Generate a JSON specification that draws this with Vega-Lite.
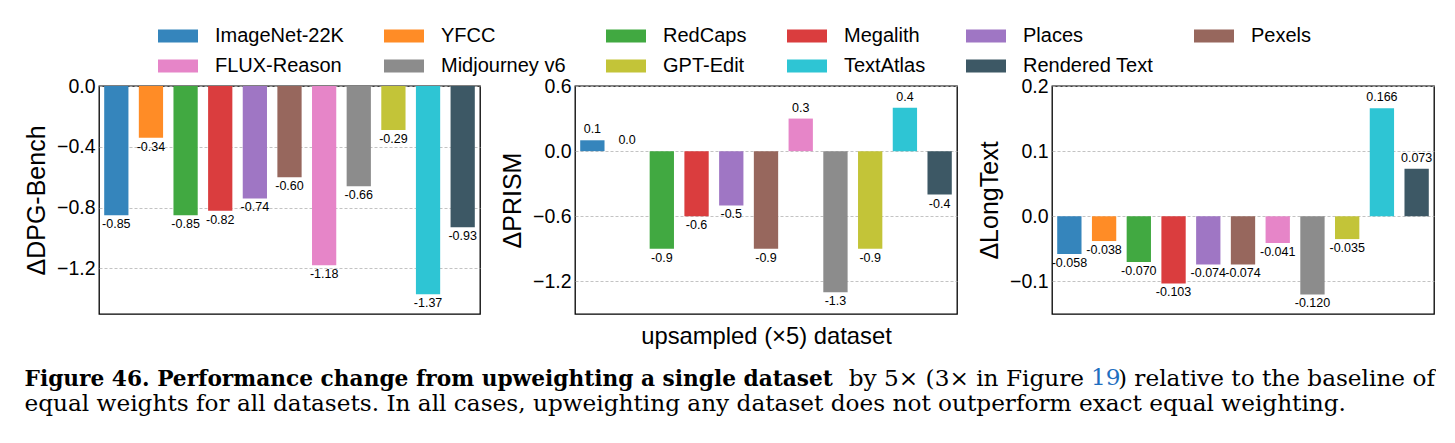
{
  "$schema": "https://vega.github.io/schema/vega-lite/v6.json",
  "background": "white",
  "padding": {"left": 23, "top": 16, "right": 0, "bottom": 0},
  "bounds": "flush",
  "spacing": 95,
  "config": {
    "locale": {"number": {"decimal": ".", "thousands": ",", "grouping": [3], "currency": ["$", ""], "minus": "-"}},
    "font": "Liberation Sans",
    "view": {"stroke": "black", "strokeWidth": 1.3},
    "axis": {
      "labelFont": "Liberation Sans",
      "titleFont": "Liberation Sans",
      "labelColor": "black",
      "titleColor": "black",
      "titleFontWeight": "normal"
    },
    "axisY": {
      "labelFontSize": 19.5,
      "titleFontSize": 25,
      "titlePadding": 7,
      "labelPadding": 4,
      "ticks": false,
      "domain": false,
      "grid": true,
      "gridColor": "#b4b4b4",
      "gridDash": [3, 2],
      "gridWidth": 0.8,
      "format": ".1f",
      "labelExpr": "replace(datum.label, '-', '\u2212')"
    },
    "title": {"color": "black", "limit": 2000}
  },
  "datasets": {
    "dpg": [
      {"dataset": "ImageNet-22K", "value": -0.85},
      {"dataset": "YFCC", "value": -0.34},
      {"dataset": "RedCaps", "value": -0.85},
      {"dataset": "Megalith", "value": -0.82},
      {"dataset": "Places", "value": -0.74},
      {"dataset": "Pexels", "value": -0.60},
      {"dataset": "FLUX-Reason", "value": -1.18},
      {"dataset": "Midjourney v6", "value": -0.66},
      {"dataset": "GPT-Edit", "value": -0.29},
      {"dataset": "TextAtlas", "value": -1.37},
      {"dataset": "Rendered Text", "value": -0.93}
    ],
    "prism": [
      {"dataset": "ImageNet-22K", "value": 0.1},
      {"dataset": "YFCC", "value": 0.0},
      {"dataset": "RedCaps", "value": -0.9},
      {"dataset": "Megalith", "value": -0.6},
      {"dataset": "Places", "value": -0.5},
      {"dataset": "Pexels", "value": -0.9},
      {"dataset": "FLUX-Reason", "value": 0.3},
      {"dataset": "Midjourney v6", "value": -1.3},
      {"dataset": "GPT-Edit", "value": -0.9},
      {"dataset": "TextAtlas", "value": 0.4},
      {"dataset": "Rendered Text", "value": -0.4}
    ],
    "longtext": [
      {"dataset": "ImageNet-22K", "value": -0.058},
      {"dataset": "YFCC", "value": -0.038},
      {"dataset": "RedCaps", "value": -0.070},
      {"dataset": "Megalith", "value": -0.103},
      {"dataset": "Places", "value": -0.074},
      {"dataset": "Pexels", "value": -0.074},
      {"dataset": "FLUX-Reason", "value": -0.041},
      {"dataset": "Midjourney v6", "value": -0.120},
      {"dataset": "GPT-Edit", "value": -0.035},
      {"dataset": "TextAtlas", "value": 0.166},
      {"dataset": "Rendered Text", "value": 0.073}
    ]
  },
  "title": {
    "text": "19",
    "orient": "bottom",
    "anchor": "start",
    "frame": "group",
    "offset": -49,
    "dx": 992,
    "font": "DejaVu Serif",
    "fontSize": 23.2,
    "fontWeight": "normal",
    "color": "#1f6fbf"
  },
  "hconcat": [
    {
      "width": 381,
      "height": 228,
      "data": {"name": "dpg"},
      "title": {
        "text": "Figure 46. Performance change from upweighting a single dataset",
        "subtitle": "equal weights for all datasets. In all cases, upweighting any dataset does not outperform exact equal weighting.",
        "orient": "bottom",
        "anchor": "start",
        "frame": "bounds",
        "offset": 55,
        "font": "DejaVu Serif",
        "fontSize": 21.7,
        "fontWeight": "bold",
        "subtitleFont": "DejaVu Serif",
        "subtitleFontSize": 23.2,
        "subtitleFontWeight": "normal",
        "subtitleColor": "black",
        "subtitlePadding": 2
      },
      "encoding": {
        "x": {"field": "dataset", "type": "nominal", "sort": null, "axis": null,
              "scale": {"paddingInner": 0.3, "paddingOuter": 0.15}},
        "y": {"field": "value", "type": "quantitative",
              "scale": {"domain": [-1.5, 0], "nice": false},
              "axis": {"title": "\u0394DPG-Bench", "values": [0, -0.4, -0.8, -1.2]}}
      },
      "layer": [
        {
          "mark": {"type": "bar"},
          "encoding": {
            "color": {
              "field": "dataset", "type": "nominal",
              "scale": {
                "domain": ["ImageNet-22K", "YFCC", "RedCaps", "Megalith", "Places", "Pexels", "FLUX-Reason", "Midjourney v6", "GPT-Edit", "TextAtlas", "Rendered Text"],
                "range": ["#3585bc", "#ff8c26", "#41a941", "#da3d3e", "#9f76c4", "#97675d", "#e685c8", "#8c8c8c", "#c3c438", "#2ec5d4", "#3d5865"]
              },
              "legend": {
                "orient": "none", "legendX": 59, "legendY": -70,
                "direction": "horizontal", "columns": 6, "title": null, "padding": 0,
                "symbolType": "M-1,-0.325H1V0.325H-1Z", "symbolSize": 1600,
                "symbolStrokeWidth": 0, "symbolOpacity": 1,
                "labelFont": "Liberation Sans", "labelFontSize": 20, "labelColor": "black",
                "labelOffset": 17, "columnPadding": 40, "rowPadding": -12,
                "gridAlign": "each", "labelLimit": 400
              }
            }
          }
        },
        {
          "transform": [{"filter": "datum.value < 0"}],
          "mark": {"type": "text", "baseline": "top", "dy": 3, "fontSize": 12.5, "color": "black"},
          "encoding": {"text": {"field": "value", "type": "quantitative", "format": ".2f"}}
        }
      ]
    },
    {
      "width": 382,
      "height": 228,
      "data": {"name": "prism"},
      "title": {
        "text": "by 5\u00d7 (3\u00d7 in Figure",
        "orient": "bottom",
        "anchor": "end",
        "frame": "group",
        "offset": 20,
        "dx": 127,
        "font": "DejaVu Serif",
        "fontSize": 23.2,
        "fontWeight": "normal"
      },
      "encoding": {
        "x": {"field": "dataset", "type": "nominal", "sort": null,
              "scale": {"paddingInner": 0.3, "paddingOuter": 0.15},
              "axis": {"title": "upsampled (\u00d75) dataset", "labels": false, "ticks": false, "domain": false,
                       "grid": false, "titleFontSize": 23.8, "titlePadding": 10}},
        "y": {"field": "value", "type": "quantitative",
              "scale": {"domain": [-1.5, 0.6], "nice": false},
              "axis": {"title": "\u0394PRISM", "values": [0.6, 0, -0.6, -1.2]}}
      },
      "layer": [
        {
          "mark": {"type": "bar"},
          "encoding": {
            "color": {
              "field": "dataset", "type": "nominal",
              "scale": {
                "domain": ["ImageNet-22K", "YFCC", "RedCaps", "Megalith", "Places", "Pexels", "FLUX-Reason", "Midjourney v6", "GPT-Edit", "TextAtlas", "Rendered Text"],
                "range": ["#3585bc", "#ff8c26", "#41a941", "#da3d3e", "#9f76c4", "#97675d", "#e685c8", "#8c8c8c", "#c3c438", "#2ec5d4", "#3d5865"]
              },
              "legend": {
                "orient": "none", "legendX": 59, "legendY": -70,
                "direction": "horizontal", "columns": 6, "title": null, "padding": 0,
                "symbolType": "M-1,-0.325H1V0.325H-1Z", "symbolSize": 1600,
                "symbolStrokeWidth": 0, "symbolOpacity": 1,
                "labelFont": "Liberation Sans", "labelFontSize": 20, "labelColor": "black",
                "labelOffset": 17, "columnPadding": 40, "rowPadding": -12,
                "gridAlign": "each", "labelLimit": 400
              }
            }
          }
        },
        {
          "mark": {"type": "rule", "color": "black", "strokeWidth": 2},
          "encoding": {"y": {"datum": 0}}
        },
        {
          "transform": [{"filter": "datum.value < 0"}],
          "mark": {"type": "text", "baseline": "top", "dy": 3, "fontSize": 12.5, "color": "black"},
          "encoding": {"text": {"field": "value", "type": "quantitative", "format": ".1f"}}
        },
        {
          "transform": [{"filter": "datum.value >= 0"}],
          "mark": {"type": "text", "baseline": "bottom", "dy": -4, "fontSize": 12.5, "color": "black"},
          "encoding": {"text": {"field": "value", "type": "quantitative", "format": ".1f"}}
        }
      ]
    },
    {
      "width": 382,
      "height": 228,
      "data": {"name": "longtext"},
      "title": {
        "text": ") relative to the baseline of",
        "orient": "bottom",
        "anchor": "end",
        "frame": "group",
        "offset": 54,
        "dx": 1,
        "font": "DejaVu Serif",
        "fontSize": 23.2,
        "fontWeight": "normal"
      },
      "encoding": {
        "x": {"field": "dataset", "type": "nominal", "sort": null, "axis": null,
              "scale": {"paddingInner": 0.3, "paddingOuter": 0.15}},
        "y": {"field": "value", "type": "quantitative",
              "scale": {"domain": [-0.15, 0.2], "nice": false, "zero": false},
              "axis": {"title": "\u0394LongText", "values": [0.2, 0.1, 0, -0.1]}}
      },
      "layer": [
        {
          "mark": {"type": "bar"},
          "encoding": {
            "color": {
              "field": "dataset", "type": "nominal",
              "scale": {
                "domain": ["ImageNet-22K", "YFCC", "RedCaps", "Megalith", "Places", "Pexels", "FLUX-Reason", "Midjourney v6", "GPT-Edit", "TextAtlas", "Rendered Text"],
                "range": ["#3585bc", "#ff8c26", "#41a941", "#da3d3e", "#9f76c4", "#97675d", "#e685c8", "#8c8c8c", "#c3c438", "#2ec5d4", "#3d5865"]
              },
              "legend": {
                "orient": "none", "legendX": 59, "legendY": -70,
                "direction": "horizontal", "columns": 6, "title": null, "padding": 0,
                "symbolType": "M-1,-0.325H1V0.325H-1Z", "symbolSize": 1600,
                "symbolStrokeWidth": 0, "symbolOpacity": 1,
                "labelFont": "Liberation Sans", "labelFontSize": 20, "labelColor": "black",
                "labelOffset": 17, "columnPadding": 40, "rowPadding": -12,
                "gridAlign": "each", "labelLimit": 400
              }
            }
          }
        },
        {
          "mark": {"type": "rule", "color": "black", "strokeWidth": 2},
          "encoding": {"y": {"datum": 0}}
        },
        {
          "transform": [{"filter": "datum.value < 0"}],
          "mark": {"type": "text", "baseline": "top", "dy": 3, "fontSize": 12.5, "color": "black"},
          "encoding": {"text": {"field": "value", "type": "quantitative", "format": ".3f"}}
        },
        {
          "transform": [{"filter": "datum.value >= 0"}],
          "mark": {"type": "text", "baseline": "bottom", "dy": -4, "fontSize": 12.5, "color": "black"},
          "encoding": {"text": {"field": "value", "type": "quantitative", "format": ".3f"}}
        }
      ]
    }
  ]
}
